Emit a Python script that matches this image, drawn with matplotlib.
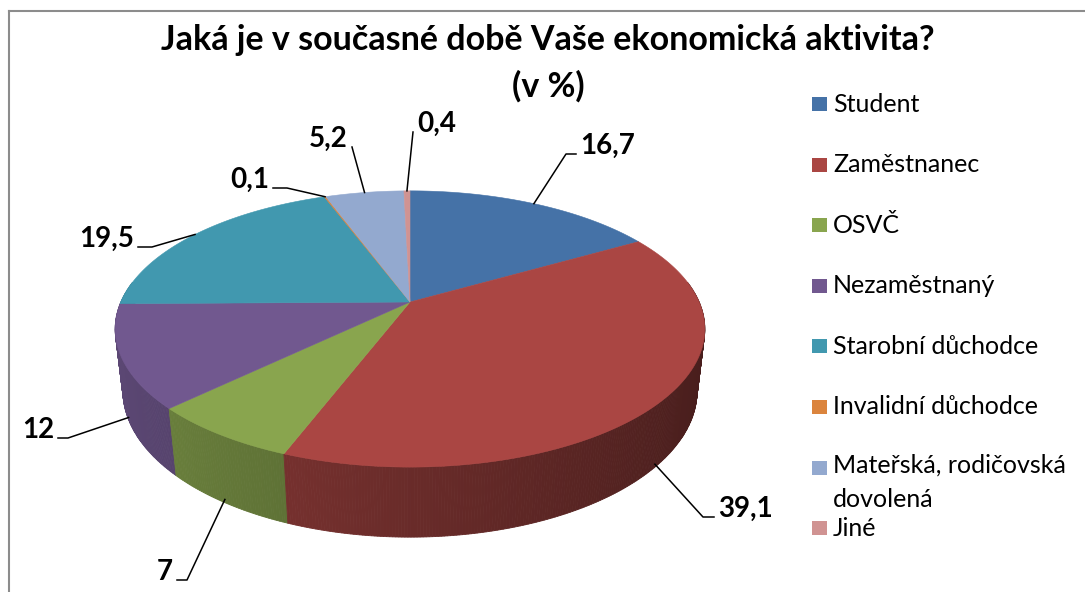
import numpy as np
import matplotlib
matplotlib.use("Agg")
import matplotlib.pyplot as plt
from matplotlib.patches import Polygon, Rectangle
from matplotlib.colors import to_rgb

# data
categories = ["Student", "Zaměstnanec", "OSVČ", "Nezaměstnaný", "Starobní důchodce",
              "Invalidní důchodce", "Mateřská, rodičovská\ndovolená", "Jiné"]
values = [16.7, 39.1, 7, 12, 19.5, 0.1, 5.2, 0.4]
colors = ["#4572A7", "#AA4643", "#89A54E", "#71588F", "#4198AF", "#DB843D", "#93A9CF", "#D09392"]
title = "Jaká je v současné době Vaše ekonomická aktivita?"
subtitle = "(v %)"

# label layout (pixel coords): knee of leader, horizontal tick length, side of text
knees = [(566, 154), (703, 517), (187, 580), (68, 438), (152, 247), (287, 188), (352, 147), (413, 132)]
ticks = [10, 11, 10, 10, 14, 14, 0, 0]
sides = ["left", "left", "right", "right", "right", "right", "right", "left"]

plt.rcParams["font.family"] = ["Lato", "DejaVu Sans"]

W, Hpx = 1085, 592
fig = plt.figure(figsize=(W / 100, Hpx / 100), dpi=100)
ax = fig.add_axes([0, 0, 1, 1])
ax.set_xlim(0, W)
ax.set_ylim(Hpx, 0)
ax.axis("off")

# perspective camera for the 3d pie
cx, cy = 410, 302
elev = np.radians(28)
D = 4.52
fx, fy = 1307, 1279
thick = 0.25


def proj(theta, r, z):
    X = r * np.cos(theta)
    Y = r * np.sin(theta)
    yc = Y * np.sin(elev) + z * np.cos(elev)
    d = D + Y * np.cos(elev) - z * np.sin(elev)
    return cx + fx * X / d, cy - fy * yc / d


vals = np.array(values, dtype=float)
cum = np.concatenate([[0], np.cumsum(vals)]) / vals.sum()
starts = np.pi / 2 - 2 * np.pi * cum[:-1]
ends = np.pi / 2 - 2 * np.pi * cum[1:]

# side strips, far to near
strips = []
for i in range(len(vals)):
    n = max(2, int(abs(ends[i] - starts[i]) / np.radians(0.5)))
    th = np.linspace(starts[i], ends[i], n + 1)
    for a, b in zip(th[:-1], th[1:]):
        m = (a + b) / 2
        if np.sin(m) > 0.15:
            continue
        shade = 0.62 - 0.2 * np.cos(m)
        c = np.clip(np.array(to_rgb(colors[i])) * shade, 0, 1)
        pts = [proj(a, 1, 0), proj(b, 1, 0), proj(b, 1, -thick), proj(a, 1, -thick)]
        strips.append((np.sin(m), pts, c))
strips.sort(key=lambda s: -s[0])
for _, pts, c in strips:
    ax.add_patch(Polygon(pts, closed=True, fc=c, ec=c, lw=0.6, zorder=1))

# top faces
for i in range(len(vals)):
    n = max(2, int(abs(ends[i] - starts[i]) / np.radians(0.5)))
    th = np.linspace(starts[i], ends[i], n + 1)
    pts = [(cx, cy)] + [proj(t, 1, 0) for t in th]
    ax.add_patch(Polygon(pts, closed=True, fc=colors[i], ec=colors[i], lw=0.4, zorder=2))

# data labels with leader lines
for i, v in enumerate(vals):
    m = (starts[i] + ends[i]) / 2
    if np.sin(m) > 0:
        p0 = proj(m, 1, 0)
    else:
        p0 = proj(m, 1, -thick * 0.95)
    kx, ky = knees[i]
    ex = kx - ticks[i] if sides[i] == "right" else kx + ticks[i]
    ax.plot([p0[0], kx, ex], [p0[1], ky, ky], color="black", lw=1.1, zorder=3)
    txt = f"{v:g}".replace(".", ",")
    if sides[i] == "right":
        ax.text(ex - 4, ky, txt, ha="right", va="baseline", fontsize=20, fontweight="bold", zorder=4)
    else:
        ax.text(ex + 4, ky, txt, ha="left", va="baseline", fontsize=20, fontweight="bold", zorder=4)

# title
ax.text(548, 40, title, ha="center", va="center", fontsize=24.5, fontweight="bold")
ax.text(548, 86, subtitle, ha="center", va="center", fontsize=24.5, fontweight="bold")

# legend
for i, lab in enumerate(categories):
    y = 104 + i * 60.6
    ax.add_patch(Rectangle((812, y - 7), 15, 14, fc=colors[i], ec="none"))
    if "\n" in lab:
        ax.text(833, y - 14, lab, ha="left", va="top", fontsize=18, linespacing=1.6)
    else:
        ax.text(833, y, lab, ha="left", va="center", fontsize=18)

# chart frame
ax.plot([9, W], [11, 11], color="#8c8c8c", lw=1.5, clip_on=False)
ax.plot([9, 9], [11, Hpx], color="#8c8c8c", lw=1.5, clip_on=False)

fig.savefig("out.png", dpi=100)
